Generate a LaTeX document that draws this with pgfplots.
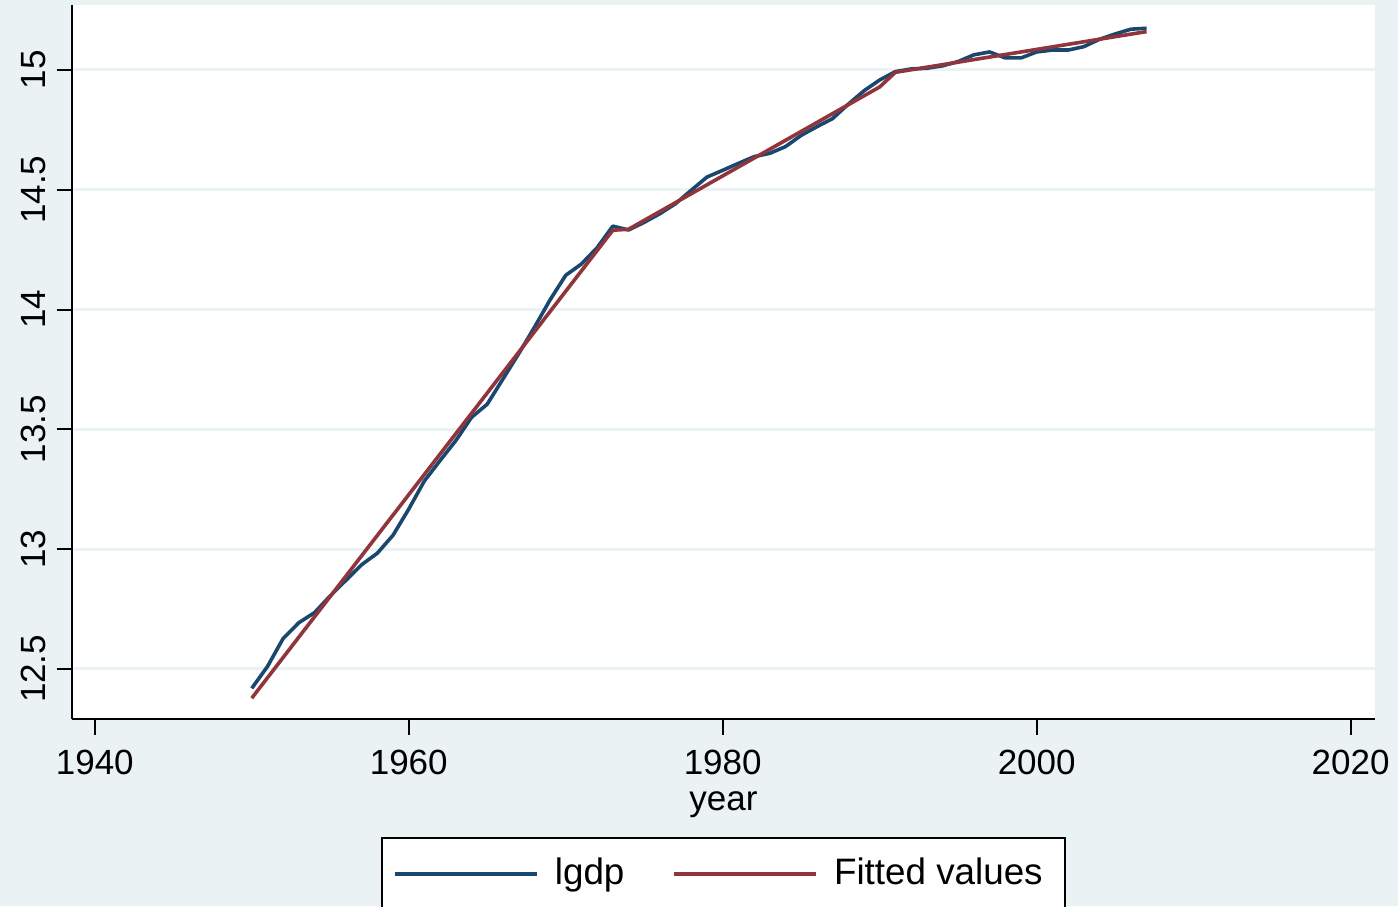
\documentclass[border=0pt]{standalone}
\usepackage{fontspec}
\setmainfont{Liberation Sans}
\usepackage{pgfplots}
\pgfplotsset{compat=1.18}
\definecolor{bg}{RGB}{234,242,243}
\definecolor{sblue}{RGB}{26,71,111}
\definecolor{sred}{RGB}{144,53,59}
\begin{document}
\begin{tikzpicture}[x=1pt,y=1pt]
\path[use as bounding box, fill=bg] (0,0) rectangle (699,453);
\begin{axis}[
  at={(36pt,93.5pt)}, anchor=south west,
  scale only axis, width=651.5pt, height=357pt,
  xmin=1938.55, xmax=2021.55, ymin=12.291, ymax=15.271,
  axis background/.style={fill=white},
  axis x line*=bottom, axis y line*=left,
  axis line style={-, line width=1pt, black},
  xtick={1940,1960,1980,2000,2020},
  xticklabels={1940,1960,1980,2000,2020},
  ytick={12.5,13,13.5,14,14.5,15},
  yticklabels={12.5,13,13.5,14,14.5,15},
  tick align=outside, major tick length=7.75pt,
  tick style={line width=1pt, black},
  ymajorgrids, grid style={bg, line width=1.5pt},
  /pgf/number format/assume math mode=true,
  xticklabel style={font=\fontsize{17.5}{21}\selectfont, inner sep=0pt, anchor=north, yshift=-7.75pt},
  yticklabel style={font=\fontsize{17.5}{21}\selectfont, inner sep=0pt, rotate=90, anchor=base, yshift=5.5pt},
  xlabel={year},
  xlabel style={at={(axis description cs:0.5,0)}, anchor=base, yshift=-45.5pt, inner sep=0pt, font=\fontsize{17.5}{21}\selectfont},
  legend columns=2,
  legend style={at={(axis description cs:0.5,0)}, anchor=north, yshift=-59pt,
    draw=black, line width=1pt, fill=white,
    font=\fontsize{18.4}{22}\selectfont,
    inner xsep=5.5pt, inner ysep=10pt,
    nodes={inner sep=0pt},
    /tikz/every odd column/.append style={column sep=8pt},
    /tikz/every even column/.append style={column sep=24pt}},
  legend image code/.code={\draw[#1] (0pt,-0.7pt) -- (71pt,-0.7pt);},
]
\addplot[sblue, line width=1.8pt, line join=round] table {
1950 12.419
1951 12.510
1952 12.627
1953 12.693
1954 12.735
1955 12.805
1956 12.870
1957 12.935
1958 12.983
1959 13.058
1960 13.167
1961 13.285
1962 13.370
1963 13.453
1964 13.550
1965 13.605
1966 13.710
1967 13.815
1968 13.925
1969 14.040
1970 14.143
1971 14.190
1972 14.258
1973 14.348
1974 14.332
1975 14.364
1976 14.400
1977 14.442
1978 14.498
1979 14.553
1980 14.581
1981 14.610
1982 14.638
1983 14.652
1984 14.680
1985 14.727
1986 14.763
1987 14.797
1988 14.857
1989 14.913
1990 14.958
1991 14.993
1992 15.004
1993 15.007
1994 15.017
1995 15.035
1996 15.063
1997 15.075
1998 15.050
1999 15.050
2000 15.075
2001 15.083
2002 15.083
2003 15.097
2004 15.128
2005 15.150
2006 15.170
2007 15.174
};
\addlegendentry{lgdp}
\addplot[sred, line width=1.8pt, line join=round] table {
1950 12.378
1973 14.331
1974 14.335
1990 14.929
1991 14.990
2007 15.160
};
\addlegendentry{Fitted values\kern5.5pt\null}
\end{axis}
\end{tikzpicture}
\end{document}
